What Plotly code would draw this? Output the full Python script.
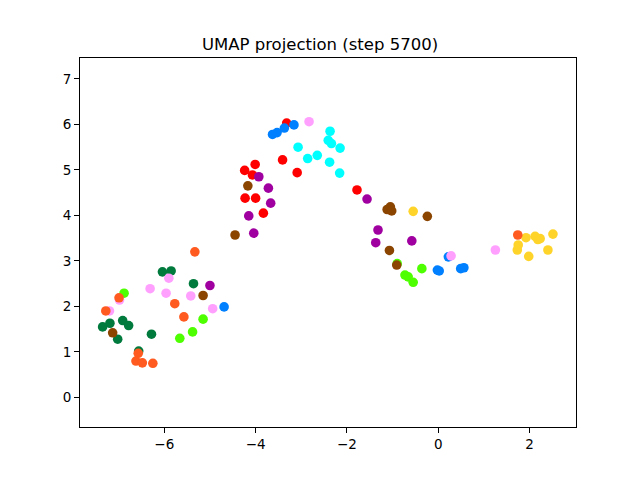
import plotly.graph_objects as go

# class -> (x list, y list)
dark_green_x = [-6.04, -5.85, -5.36, -7.19, -6.91, -6.78, -7.35, -7.02, -6.28, -6.56]
dark_green_y = [2.76, 2.78, 2.50, 1.63, 1.69, 1.58, 1.55, 1.28, 1.39, 1.02]

bright_green_x = [-6.88, -5.15, -5.38, -5.66, -0.90, -0.36, -0.73, -0.66, -0.55]
bright_green_y = [2.29, 1.72, 1.44, 1.30, 2.94, 2.83, 2.69, 2.65, 2.53]

brown_x = [-5.15, -7.13, -4.45, -4.17, -1.12, -1.05, -1.02, -0.24, -1.07, -0.91]
brown_y = [2.24, 1.42, 3.57, 4.65, 4.13, 4.19, 4.10, 3.98, 3.23, 2.91]

red_x = [-3.32, -3.41, -3.09, -4.01, -4.24, -4.07, -4.23, -4.00, -3.83, -1.78]
red_y = [6.03, 5.22, 4.94, 5.12, 4.99, 4.89, 4.38, 4.38, 4.05, 4.56]

purple_x = [-5.00, -3.93, -3.72, -3.67, -4.15, -4.04, -1.56, -1.32, -1.37, -0.58]
purple_y = [2.46, 4.85, 4.60, 4.27, 3.99, 3.61, 4.36, 3.68, 3.40, 3.44]

blue_x = [-4.69, -3.16, -3.37, -3.53, -3.63, 0.22, -0.02, 0.02, 0.49, 0.56]
blue_y = [1.99, 5.99, 5.92, 5.82, 5.78, 3.09, 2.80, 2.78, 2.83, 2.85]

cyan_x = [-2.37, -2.41, -2.34, -2.15, -3.07, -2.86, -2.65, -2.38, -2.16]
cyan_y = [5.85, 5.65, 5.58, 5.48, 5.50, 5.25, 5.32, 5.17, 4.93]

yellow_x = [-0.55, 1.92, 1.75, 1.73, 2.12, 2.18, 2.23, 2.51, 2.40, 1.98]
yellow_y = [4.09, 3.51, 3.35, 3.24, 3.54, 3.47, 3.49, 3.59, 3.24, 3.10]

pink_x = [-5.90, -6.31, -5.96, -5.42, -6.98, -4.94, -7.20, -2.83, 0.28, 1.25]
pink_y = [2.62, 2.39, 2.29, 2.23, 2.14, 1.95, 1.90, 6.06, 3.11, 3.24]

orange_x = [-5.33, -6.99, -5.77, -7.28, -5.57, -6.57, -6.62, -6.48, -6.25, 1.74]
orange_y = [3.20, 2.19, 2.06, 1.90, 1.77, 0.97, 0.80, 0.76, 0.75, 3.57]

series = [
    (dark_green_x, dark_green_y, "#007a3d"),
    (bright_green_x, bright_green_y, "#4dff00"),
    (brown_x, brown_y, "#8b4500"),
    (red_x, red_y, "#ff0000"),
    (purple_x, purple_y, "#a000a0"),
    (blue_x, blue_y, "#0080ff"),
    (cyan_x, cyan_y, "#00ffff"),
    (yellow_x, yellow_y, "#ffd42a"),
    (pink_x, pink_y, "#ffa0ff"),
    (orange_x, orange_y, "#ff5a1f"),
]

fig = go.Figure()
for xs, ys, c in series:
    fig.add_trace(go.Scatter(x=xs, y=ys, mode="markers",
                             marker=dict(size=9.6, color=c, line=dict(width=0)),
                             showlegend=False))

axis_common = dict(showgrid=False, zeroline=False, showline=True, mirror=True,
                   linecolor="black", linewidth=1, ticks="outside", ticklen=5,
                   tickwidth=1, tickcolor="black",
                   tickfont=dict(family="DejaVu Sans", size=13.5, color="black"))

fig.update_layout(
    width=640, height=480,
    margin=dict(l=80, r=64, t=58, b=53),
    paper_bgcolor="white", plot_bgcolor="white",
    title=dict(text="UMAP projection (step 5700)", x=0.5, xanchor="center",
               y=(480 - 44) / 480, yanchor="middle", yref="container",
               font=dict(family="DejaVu Sans", size=16.5, color="black")),
    xaxis=dict(range=[-7.845, 3.015], tickvals=[-6, -4, -2, 0, 2], **axis_common),
    yaxis=dict(range=[-0.65, 7.46], tickvals=[0, 1, 2, 3, 4, 5, 6, 7], **axis_common),
)

fig.write_html("out.html")
